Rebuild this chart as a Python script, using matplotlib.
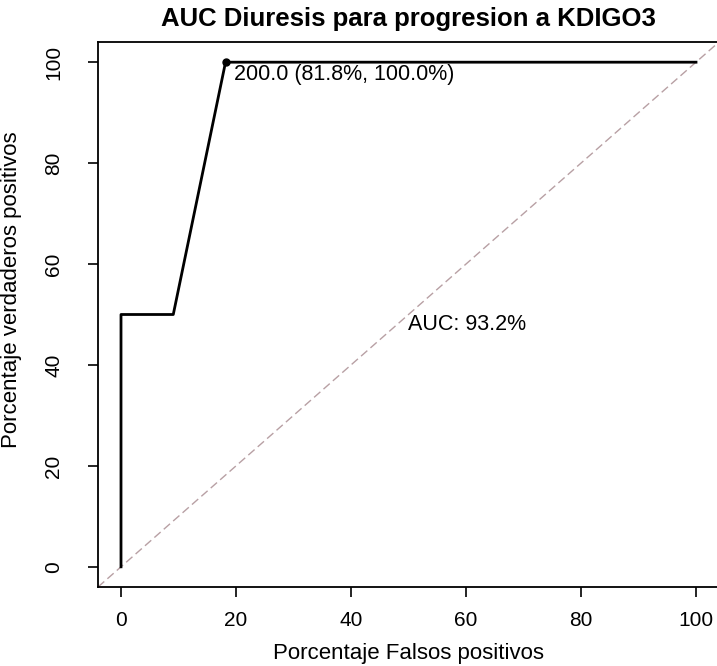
import matplotlib
matplotlib.use("Agg")
import matplotlib.pyplot as plt

plt.rcParams['font.family'] = ['Liberation Sans', 'DejaVu Sans']

fpr = [0.0, 0.0, 9.09, 18.18, 100.0]
tpr = [0.0, 50.0, 50.0, 100.0, 100.0]
best_fpr = 18.18
best_tpr = 100.0
thres_label = "200.0 (81.8%, 100.0%)"
auc_label = "AUC: 93.2%"
ticks = [0, 20, 40, 60, 80, 100]

fig = plt.figure(figsize=(7.17, 6.66), dpi=100)
ax = fig.add_axes([98/717, 1-587/666, 621/717, 545/666])
ax.set_xlim(-4, 104)
ax.set_ylim(-4, 104)

ax.plot([-4, 104], [-4, 104], color='#b8a0a4', lw=1.0, ls=(0, (6, 3)), zorder=1)
ax.plot(fpr, tpr, color='black', lw=2.0, zorder=2)
ax.plot([best_fpr], [best_tpr], 'o', color='black', ms=5, zorder=3)
ax.text(best_fpr + 1.5, best_tpr - 0.3, thres_label, ha='left', va='top', fontsize=15.5)
ax.text(50, 50, auc_label, ha='left', va='top', fontsize=15.5)

ax.set_xticks(ticks)
ax.set_yticks(ticks)
ax.tick_params(axis='both', length=7, width=1.2, labelsize=15)
ax.tick_params(axis='x', pad=10.5)
ax.tick_params(axis='y', pad=18)
for lbl in ax.get_yticklabels():
    lbl.set_rotation(90)
    lbl.set_va('center')
for s in ax.spines.values():
    s.set_linewidth(1.3)

ax.set_xlabel("Porcentaje Falsos positivos", fontsize=16, labelpad=9)
ax.set_ylabel("Porcentaje verdaderos positivos", fontsize=16)
ax.yaxis.set_label_coords(-76/621, (587-290)/545)
ax.set_title("AUC Diuresis para progresion a KDIGO3", fontsize=18.5, fontweight='bold', pad=11.5)

fig.savefig("out.png", dpi=100)
